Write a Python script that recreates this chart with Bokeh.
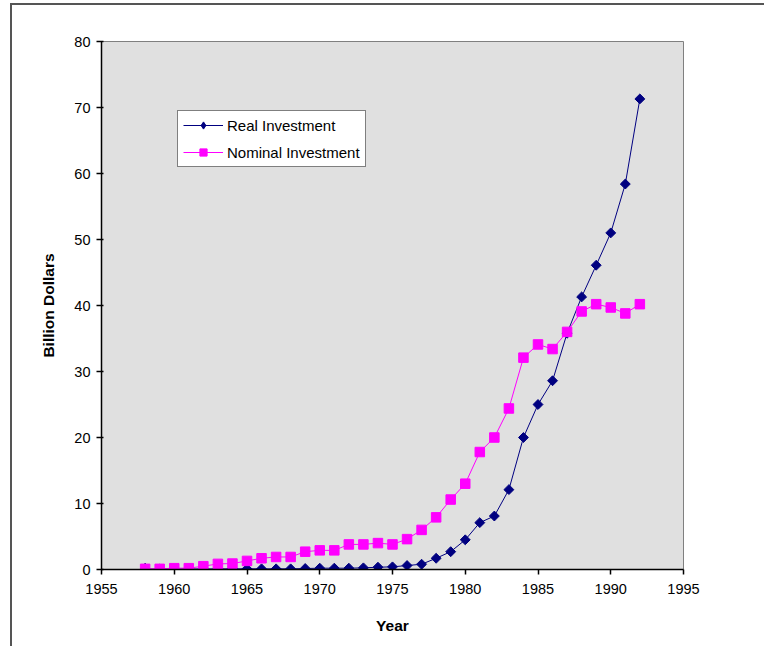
import math
from bokeh.plotting import figure
from bokeh.models import Legend, LegendItem, FixedTicker, Range1d
from bokeh.embed import file_html
from bokeh.resources import INLINE

years = list(range(1958, 1993))
real_investment = [0.05, 0.05, 0.06, 0.07, 0.08, 0.09, 0.1, 0.1, 0.1, 0.1, 0.1,
                   0.15, 0.2, 0.2, 0.2, 0.25, 0.35, 0.4, 0.6, 0.8,
                   1.7, 2.7, 4.5, 7.1, 8.1, 12.1, 20.0, 25.0, 28.6, 35.8,
                   41.3, 46.1, 51.0, 58.4, 71.3]
nominal_investment = [0.1, 0.1, 0.2, 0.2, 0.5, 0.85, 0.9, 1.3, 1.7, 1.9, 1.9,
                      2.7, 2.9, 2.9, 3.8, 3.8, 4.0, 3.8, 4.6, 6.0,
                      7.9, 10.6, 13.0, 17.8, 20.0, 24.4, 32.1, 34.1, 33.4, 36.0,
                      39.1, 40.2, 39.7, 38.8, 40.2]
x_ticks = [1955, 1960, 1965, 1970, 1975, 1980, 1985, 1990, 1995]
y_ticks = [0, 10, 20, 30, 40, 50, 60, 70, 80]

FONT = "Liberation Sans"

p = figure(width=754, height=643, output_backend="svg", toolbar_location=None,
           x_range=Range1d(1955, 1995), y_range=Range1d(0, 80),
           min_border_left=89, min_border_top=36, min_border_right=83, min_border_bottom=79)
p.styles = {"border-left": "2px solid #555", "border-top": "2px solid #555",
            "margin-left": "10px", "margin-top": "3px"}
p.background_fill_color = "#E0E0E0"
p.border_fill_color = "white"
p.outline_line_color = "#808080"
p.outline_line_width = 1
p.xgrid.visible = False
p.ygrid.visible = False

for ax in (p.xaxis[0], p.yaxis[0]):
    ax.axis_line_color = "black"
    ax.axis_line_width = 1.5
    ax.major_tick_line_color = "black"
    ax.major_tick_line_width = 1.5
    ax.minor_tick_line_color = None
    ax.major_label_text_font = FONT
    ax.major_label_text_font_size = "14.5px"
    ax.major_label_text_color = "black"
    ax.axis_label_text_font = FONT
    ax.axis_label_text_font_size = "15.5px"
    ax.axis_label_text_font_style = "bold"
    ax.axis_label_text_color = "black"

p.xaxis.ticker = FixedTicker(ticks=x_ticks)
p.yaxis.ticker = FixedTicker(ticks=y_ticks)
p.xaxis.major_tick_in = 0
p.xaxis.major_tick_out = 5
p.yaxis.major_tick_in = 2
p.yaxis.major_tick_out = 5
p.xaxis.major_label_standoff = 9
p.yaxis.major_label_standoff = 6
p.xaxis.axis_label = "Year"
p.yaxis.axis_label = "Billion Dollars"
p.xaxis.axis_label_standoff = 20
p.yaxis.axis_label_standoff = 14

navy = "#000080"
magenta = "#FF00FF"

rl = p.line(years, real_investment, line_color=navy, line_width=1)
rs = p.scatter(years, real_investment, marker="square", size=7, angle=math.pi / 4,
               fill_color=navy, line_color=navy)
# key glyph for the legend (drawn on the first data point, which it overlaps)
rs_key = p.scatter(years[:1], real_investment[:1], marker="diamond", size=12,
                   fill_color=navy, line_color=navy)
nl = p.line(years, nominal_investment, line_color=magenta, line_width=1)
ns = p.scatter(years, nominal_investment, marker="square", size=9.5,
               fill_color=magenta, line_color=magenta)

legend = Legend(items=[
    LegendItem(label="Real Investment", renderers=[rl, rs_key]),
    LegendItem(label="Nominal Investment", renderers=[nl, ns]),
], location=(76, 402))
legend.label_text_font = FONT
legend.label_text_font_size = "15px"
legend.label_text_color = "black"
legend.border_line_color = "black"
legend.border_line_width = 1
legend.background_fill_color = "white"
legend.background_fill_alpha = 1
legend.glyph_width = 40
legend.glyph_height = 18
legend.label_standoff = 4
legend.spacing = 9
legend.padding = 5
legend.margin = 0
p.add_layout(legend, "center")

open("out.html", "w").write(file_html(p, INLINE))
